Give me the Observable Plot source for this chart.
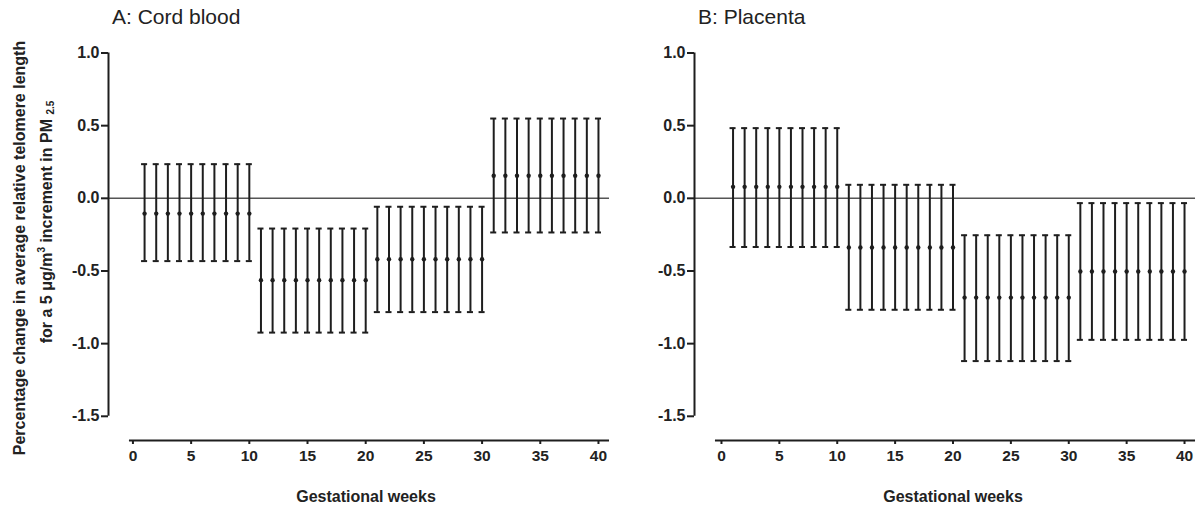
<!DOCTYPE html>
<html>
<head>
<meta charset="utf-8">
<script src="https://cdn.jsdelivr.net/npm/d3@7"></script>
<script src="https://cdn.jsdelivr.net/npm/@observablehq/plot@0.6"></script>
<style>
  html, body { margin: 0; padding: 0; background: #fff; }
  #wrap { position: relative; width: 1202px; height: 510px; overflow: hidden; font-family: "Liberation Sans", Arial, sans-serif; color: #222; }
  .panel { position: absolute; top: 0; }
  .title { position: absolute; font-size: 21px; line-height: 1; white-space: nowrap; color: #222; }
  .xlab { position: absolute; font-size: 16px; font-weight: bold; white-space: nowrap; transform: translate(-50%, -50%); color: #222; }
  .ylab { position: absolute; font-size: 16px; font-weight: bold; white-space: nowrap; transform: translate(-50%, -50%) rotate(-90deg); color: #222; }
  .ylab sub { font-size: 10px; vertical-align: -2px; }
  .ylab sup { font-size: 10px; vertical-align: 7px; }
</style>
</head>
<body>
<div id="wrap">
  <div class="title" style="left:112px; top:6px;">A: Cord blood</div>
  <div class="title" style="left:698px; top:6px;">B: Placenta</div>
  <div class="ylab" style="left:20px; top:248px;">Percentage change in average relative telomere length</div>
  <div class="ylab" style="left:46px; top:222px;">for a 5 μg/m<sup>3</sup> increment in PM <sub>2.5</sub></div>
  <div class="xlab" style="left:366px; top:497px;">Gestational weeks</div>
  <div class="xlab" style="left:953px; top:497px;">Gestational weeks</div>
  <div id="panelA" class="panel" style="left:0px;"></div>
  <div id="panelB" class="panel" style="left:600px;"></div>
</div>
<script>
// ---- Data ----
const weeks = [1,2,3,4,5,6,7,8,9,10, 11,12,13,14,15,16,17,18,19,20, 21,22,23,24,25,26,27,28,29,30, 31,32,33,34,35,36,37,38,39,40];

const cordEst = [-0.105,-0.105,-0.105,-0.105,-0.105,-0.105,-0.105,-0.105,-0.105,-0.105,
                 -0.563,-0.563,-0.563,-0.563,-0.563,-0.563,-0.563,-0.563,-0.563,-0.563,
                 -0.419,-0.419,-0.419,-0.419,-0.419,-0.419,-0.419,-0.419,-0.419,-0.419,
                  0.155, 0.155, 0.155, 0.155, 0.155, 0.155, 0.155, 0.155, 0.155, 0.155];
const cordLo  = [-0.432,-0.432,-0.432,-0.432,-0.432,-0.432,-0.432,-0.432,-0.432,-0.432,
                 -0.924,-0.924,-0.924,-0.924,-0.924,-0.924,-0.924,-0.924,-0.924,-0.924,
                 -0.783,-0.783,-0.783,-0.783,-0.783,-0.783,-0.783,-0.783,-0.783,-0.783,
                 -0.235,-0.235,-0.235,-0.235,-0.235,-0.235,-0.235,-0.235,-0.235,-0.235];
const cordHi  = [ 0.235, 0.235, 0.235, 0.235, 0.235, 0.235, 0.235, 0.235, 0.235, 0.235,
                 -0.208,-0.208,-0.208,-0.208,-0.208,-0.208,-0.208,-0.208,-0.208,-0.208,
                 -0.058,-0.058,-0.058,-0.058,-0.058,-0.058,-0.058,-0.058,-0.058,-0.058,
                  0.549, 0.549, 0.549, 0.549, 0.549, 0.549, 0.549, 0.549, 0.549, 0.549];

const placEst = [ 0.079, 0.079, 0.079, 0.079, 0.079, 0.079, 0.079, 0.079, 0.079, 0.079,
                 -0.338,-0.338,-0.338,-0.338,-0.338,-0.338,-0.338,-0.338,-0.338,-0.338,
                 -0.683,-0.683,-0.683,-0.683,-0.683,-0.683,-0.683,-0.683,-0.683,-0.683,
                 -0.504,-0.504,-0.504,-0.504,-0.504,-0.504,-0.504,-0.504,-0.504,-0.504];
const placLo  = [-0.335,-0.335,-0.335,-0.335,-0.335,-0.335,-0.335,-0.335,-0.335,-0.335,
                 -0.767,-0.767,-0.767,-0.767,-0.767,-0.767,-0.767,-0.767,-0.767,-0.767,
                 -1.120,-1.120,-1.120,-1.120,-1.120,-1.120,-1.120,-1.120,-1.120,-1.120,
                 -0.974,-0.974,-0.974,-0.974,-0.974,-0.974,-0.974,-0.974,-0.974,-0.974];
const placHi  = [ 0.483, 0.483, 0.483, 0.483, 0.483, 0.483, 0.483, 0.483, 0.483, 0.483,
                  0.093, 0.093, 0.093, 0.093, 0.093, 0.093, 0.093, 0.093, 0.093, 0.093,
                 -0.254,-0.254,-0.254,-0.254,-0.254,-0.254,-0.254,-0.254,-0.254,-0.254,
                 -0.033,-0.033,-0.033,-0.033,-0.033,-0.033,-0.033,-0.033,-0.033,-0.033];

const xTicks = [0, 5, 10, 15, 20, 25, 30, 35, 40];
const yTicks = [-1.5, -1.0, -0.5, 0.0, 0.5, 1.0];

// ---- Layout (per panel) ----
const layouts = {
  A: { width: 620, marginLeft: 108, marginRight: 10.4, xMin: -2.1, xMax: 41, axisStart: -0.3, axisEnd: 40.95 },
  B: { width: 602, marginLeft: 94, marginRight: 6.4, xMin: -2.33, xMax: 41, axisStart: -0.52, axisEnd: 40.95 }
};
const yBottom = -1.6665;
const ink = "#1e1e1e";

function makePanel(est, lo, hi, L) {
  const rows = weeks.map((w, i) => ({week: w, est: est[i], lo: lo[i], hi: hi[i]}));
  const cap = 0.26;
  return Plot.plot({
    width: L.width,
    height: 510,
    marginTop: 52.5,
    marginBottom: 70,
    marginLeft: L.marginLeft,
    marginRight: L.marginRight,
    style: { fontFamily: "'Liberation Sans', Arial, sans-serif", background: "transparent", overflow: "visible" },
    x: { domain: [L.xMin, L.xMax] },
    y: { domain: [yBottom, 1.0] },
    marks: [
      // zero reference line
      Plot.ruleY([0], { x1: L.xMin, x2: L.axisEnd, stroke: "#555", strokeWidth: 1.5 }),
      // y axis line
      Plot.ruleX([L.xMin], { y1: -1.5, y2: 1.0, stroke: ink, strokeWidth: 2 }),
      // x axis line
      Plot.ruleY([yBottom], { x1: L.axisStart, x2: L.axisEnd, stroke: ink, strokeWidth: 2 }),
      Plot.axisY(yTicks, {
        anchor: "left", tickSize: 7, tickPadding: 2, strokeWidth: 2, stroke: ink,
        tickFormat: d => d.toFixed(1), fontSize: 16, fontWeight: "bold", fill: "#222", label: null
      }),
      Plot.axisX(xTicks, {
        anchor: "bottom", tickSize: 4, tickPadding: 5, strokeWidth: 2, stroke: ink,
        tickFormat: d => String(d), fontSize: 15.5, fontWeight: "bold", fill: "#222", label: null
      }),
      // error bars
      Plot.ruleX(rows, { x: "week", y1: "lo", y2: "hi", stroke: ink, strokeWidth: 2 }),
      Plot.ruleY(rows, { y: "lo", x1: d => d.week - cap, x2: d => d.week + cap, stroke: ink, strokeWidth: 2 }),
      Plot.ruleY(rows, { y: "hi", x1: d => d.week - cap, x2: d => d.week + cap, stroke: ink, strokeWidth: 2 }),
      Plot.dot(rows, { x: "week", y: "est", r: 2.2, fill: ink, stroke: "none" })
    ]
  });
}

document.getElementById("panelA").appendChild(makePanel(cordEst, cordLo, cordHi, layouts.A));
document.getElementById("panelB").appendChild(makePanel(placEst, placLo, placHi, layouts.B));
</script>
</body>
</html>
